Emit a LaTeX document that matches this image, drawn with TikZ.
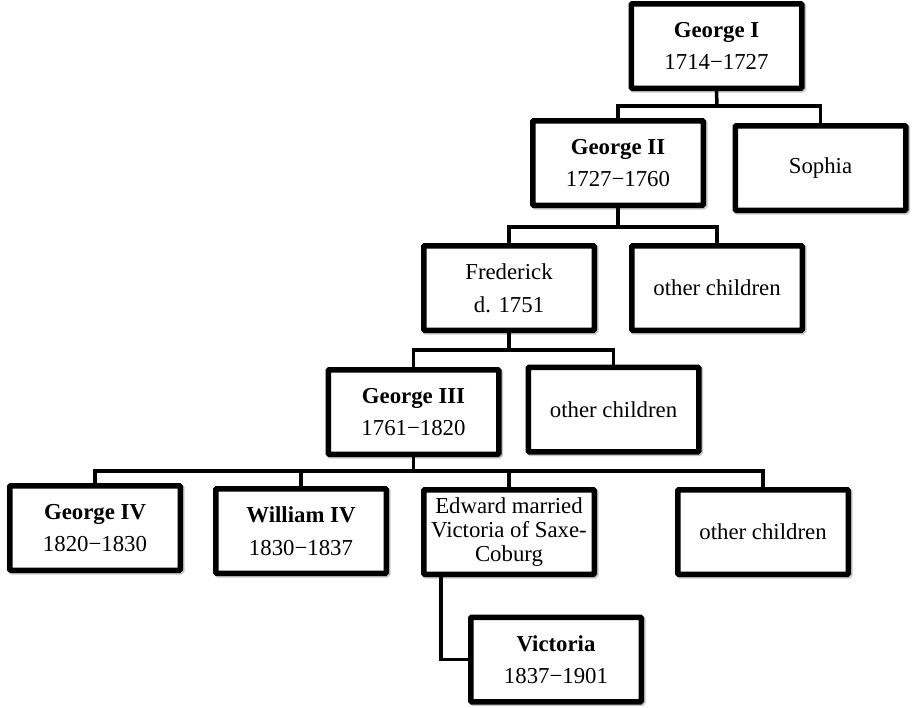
\documentclass[tikz,border=0pt]{standalone}
\usepackage{fontspec}
\setmainfont{Liberation Serif}
\usetikzlibrary{shadows,calc}
\begin{document}
\begin{tikzpicture}[x=1pt,y=-1pt,
  person/.style={draw=black, fill=white, line width=5.5pt, rounded corners=1pt,
    minimum width=170.5pt, minimum height=84.5pt, inner sep=0pt, align=center,
    font=\fontsize{22.8}{32.5}\selectfont,
    drop shadow={shadow xshift=1.5pt, shadow yshift=-1.5pt, opacity=0.22, fill=black, draw=black, line width=5.5pt}},
  tight/.style={font=\fontsize{22.8}{24}\selectfont},
  conn/.style={draw=black, line width=3.5pt, line join=miter}]
\useasboundingbox (0,0) rectangle (917,707);

\node[person] (g1) at (716.5,46) {\textbf{George I}\\1714−1727};
\node[person] (g2) at (618,163) {\textbf{George II}\\1727−1760};
\node[person] (sophia) at (820.5,168) {Sophia};
\node[person] (fred) at (509,288) {Frederick\\d. 1751};
\node[person] (oc1) at (717,288) {other children};
\node[person] (g3) at (413.5,412) {\textbf{George III}\\1761−1820};
\node[person] (oc2) at (613.5,409.5) {other children};
\node[person] (g4) at (95,528) {\textbf{George IV}\\1820−1830};
\node[person] (w4) at (301,531) {\textbf{William IV}\\1830−1837};
\node[person, tight] (edw) at (509,532) {Edward married\\Victoria of Saxe-\\Coburg};
\node[person] (oc3) at (763,532) {other children};
\node[person] (vic) at (556,659.5) {\textbf{Victoria}\\1837−1901};

\coordinate (j1) at (717,106);
\draw[conn] (g1.south) -- (j1);
\draw[conn] (g2.north) |- (j1) -| (sophia.north);

\coordinate (j2) at (618,227);
\draw[conn] (g2.south) -- (j2);
\draw[conn] (fred.north) |- (j2) -| (oc1.north);

\coordinate (j3) at (509,350);
\draw[conn] (fred.south) -- (j3);
\draw[conn] (g3.north) |- (j3) -| (oc2.north);

\coordinate (j4) at (413.5,471);
\draw[conn] (g3.south) -- (j4);
\draw[conn] (g4.north) |- (j4) -| (oc3.north);
\draw[conn] (w4.north) -- (w4.north |- j4);
\draw[conn] (edw.north) -- (edw.north |- j4);

\draw[conn] ([xshift=20pt]edw.south west) |- (vic.west);
\end{tikzpicture}
\end{document}
